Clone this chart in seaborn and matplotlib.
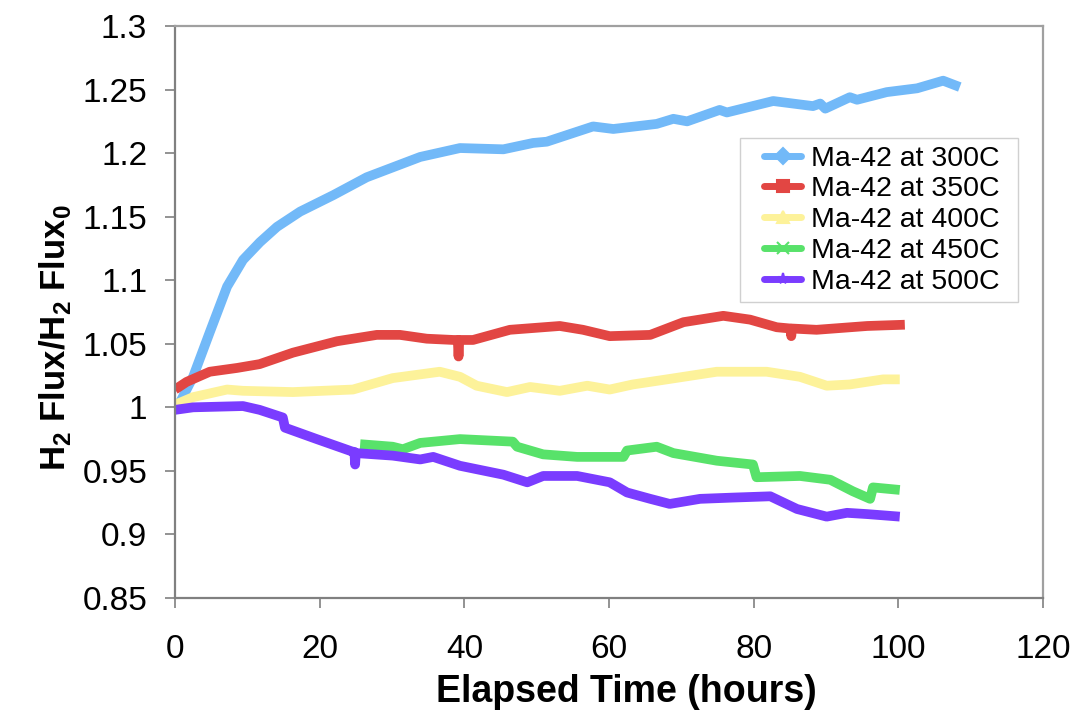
import matplotlib
matplotlib.use("Agg")
import matplotlib.pyplot as plt
from matplotlib.lines import Line2D
from matplotlib.patches import Rectangle
import numpy as np
import pandas as pd
import seaborn as sns

# H2 flux ratio measurements for membrane Ma-42 at several temperatures
t_300 = [0.3, 0.7, 2.5, 4.8, 7.2, 9.4, 11.75, 14.1, 17.3, 21.9, 26.5, 33.9, 39.4, 45.4,
         49.5, 51.4, 57.8, 60.6, 66.6, 68.9, 70.8, 75.3, 76.3, 82.7, 88.2, 89.2, 89.9,
         93.3, 94.3, 98.4, 102.6, 106.2, 108.5]
f_300 = [1.000, 1.004, 1.024, 1.059, 1.095, 1.116, 1.130, 1.142, 1.154, 1.167, 1.181,
         1.197, 1.204, 1.203, 1.208, 1.209, 1.221, 1.219, 1.223, 1.227, 1.225, 1.234,
         1.232, 1.241, 1.237, 1.239, 1.235, 1.244, 1.242, 1.248, 1.251, 1.257, 1.252]

t_350 = [0.0, 1.6, 4.8, 8.6, 11.7, 16.3, 22.4, 27.9, 31.1, 34.8, 38.5, 39.1, 39.2, 39.3,
         41.2, 46.3, 53.2, 56.4, 60.1, 65.7, 70.3, 75.8, 79.5, 83.2, 85.1, 85.2, 85.3,
         88.7, 95.7, 100.9]
f_350 = [1.014, 1.020, 1.028, 1.031, 1.034, 1.043, 1.052, 1.057, 1.057, 1.054, 1.053,
         1.053, 1.040, 1.053, 1.053, 1.061, 1.064, 1.061, 1.056, 1.057, 1.067, 1.072,
         1.069, 1.063, 1.062, 1.056, 1.062, 1.061, 1.064, 1.065]

t_400 = [0.0, 2.5, 7.2, 9.4, 16.3, 24.6, 30.1, 36.6, 39.4, 41.7, 45.9, 49.1, 53.2, 57.0,
         60.1, 63.3, 68.0, 74.9, 81.8, 86.4, 90.1, 93.3, 97.9, 100.2]
f_400 = [1.002, 1.008, 1.014, 1.013, 1.012, 1.014, 1.023, 1.028, 1.024, 1.017, 1.012,
         1.016, 1.013, 1.017, 1.014, 1.018, 1.022, 1.028, 1.028, 1.024, 1.017, 1.018,
         1.022, 1.022]

t_450 = [25.6, 30.1, 31.5, 33.9, 39.4, 46.7, 47.3, 50.9, 55.6, 60.1, 62.0, 62.5, 66.6,
         68.9, 74.9, 79.9, 80.4, 86.4, 90.6, 93.7, 96.1, 96.5, 100.2]
f_450 = [0.971, 0.969, 0.967, 0.972, 0.975, 0.973, 0.969, 0.963, 0.961, 0.961, 0.961,
         0.966, 0.969, 0.964, 0.958, 0.955, 0.945, 0.946, 0.943, 0.934, 0.928, 0.937,
         0.935]

t_500 = [0.0, 2.5, 9.4, 11.7, 14.9, 15.2, 19.6, 24.6, 24.8, 24.9, 25.0, 30.1, 33.9,
         35.7, 39.4, 45.4, 48.7, 50.9, 55.6, 60.1, 62.5, 65.7, 68.4, 72.6, 77.2, 82.3,
         86.0, 90.1, 92.9, 95.7, 100.2]
f_500 = [0.998, 1.000, 1.001, 0.998, 0.992, 0.984, 0.975, 0.965, 0.965, 0.955, 0.964,
         0.962, 0.959, 0.961, 0.954, 0.947, 0.941, 0.946, 0.946, 0.941, 0.933, 0.928,
         0.924, 0.928, 0.929, 0.930, 0.920, 0.914, 0.917, 0.916, 0.914]

series_names = ["Ma-42 at 300C", "Ma-42 at 350C", "Ma-42 at 400C",
                "Ma-42 at 450C", "Ma-42 at 500C"]
series_t = [t_300, t_350, t_400, t_450, t_500]
series_f = [f_300, f_350, f_400, f_450, f_500]
series_colors = ["#72b9f8", "#e24643", "#fdf29a", "#58e26a", "#7a3cff"]
series_markers = ["D", "s", "^", "x", "*"]

x_ticks = [0, 20, 40, 60, 80, 100, 120]
y_ticks = [0.85, 0.9, 0.95, 1.0, 1.05, 1.1, 1.15, 1.2, 1.25, 1.3]
y_tick_labels = ["0.85", "0.9", "0.95", "1", "1.05", "1.1", "1.15", "1.2", "1.25", "1.3"]

frames = []
for name, t, f in zip(series_names, series_t, series_f):
    frames.append(pd.DataFrame({"time": t, "flux": f, "series": name}))
df = pd.concat(frames, ignore_index=True)

sns.set_theme(style="white")
plt.rcParams["font.family"] = ["Liberation Sans", "DejaVu Sans"]
plt.rcParams["mathtext.fontset"] = "custom"
plt.rcParams["mathtext.rm"] = "Liberation Sans"
plt.rcParams["mathtext.bf"] = "Liberation Sans:bold"
plt.rcParams["text.color"] = "black"
plt.rcParams["axes.labelcolor"] = "black"

fig = plt.figure(figsize=(10.75, 7.17), dpi=100)
ax = fig.add_axes([0.1628, 0.166, 0.8074, 0.7977])

sns.lineplot(data=df, x="time", y="flux", hue="series", hue_order=series_names,
             palette=series_colors, estimator=None, sort=False, linewidth=7.0,
             solid_capstyle="butt", solid_joinstyle="round", legend=False, ax=ax)

ax.set_xlim(0, 120)
ax.set_ylim(0.85, 1.3)
ax.set_xticks(x_ticks)
ax.set_xticklabels([str(v) for v in x_ticks])
ax.set_yticks(y_ticks)
ax.set_yticklabels(y_tick_labels)

for side, spine in ax.spines.items():
    spine.set_visible(True)
    spine.set_color("#a0a0a0")
    spine.set_linewidth(1.6)
ax.spines["left"].set_color("#808080")
ax.spines["bottom"].set_color("#808080")

ax.tick_params(axis="both", direction="out", length=7, width=1.2, color="#808080",
               labelsize=24, labelcolor="black")
ax.tick_params(axis="x", pad=19)
ax.tick_params(axis="y", pad=13)
ax.xaxis.set_ticks_position("bottom")
ax.yaxis.set_ticks_position("left")

ax.set_xlabel("Elapsed Time (hours)", fontsize=27, fontweight="bold", color="black")
ax.xaxis.set_label_coords(0.52, -0.133)
ax.set_ylabel(r"H$_{\mathbf{2}}$ Flux/H$_{\mathbf{2}}$ Flux$_{\mathbf{0}}$",
              fontsize=25, fontweight="bold", color="black")
ax.yaxis.set_label_coords(-0.118, 0.455)

# legend box drawn separately so the padding around the entries can be set freely
ax.add_patch(Rectangle((0.651, 0.5175), 0.3203, 0.2867, transform=ax.transAxes,
                       facecolor="white", edgecolor="#d0d0d0", linewidth=1.0,
                       zorder=4))
handles = [Line2D([0], [0], color=c, lw=5, marker=m, markersize=8,
                  markeredgewidth=1.5, markeredgecolor=c, markerfacecolor=c)
           for c, m in zip(series_colors, series_markers)]
leg = ax.legend(handles, series_names, loc="upper left",
                bbox_to_anchor=(0.679, 0.791), fontsize=20.5, frameon=False,
                handlelength=1.3, handletextpad=0.35, labelspacing=0.17,
                borderpad=0.0, borderaxespad=0.0)
for txt in leg.get_texts():
    txt.set_color("black")
leg.set_zorder(5)

fig.savefig("out.png", dpi=100, facecolor="white")
